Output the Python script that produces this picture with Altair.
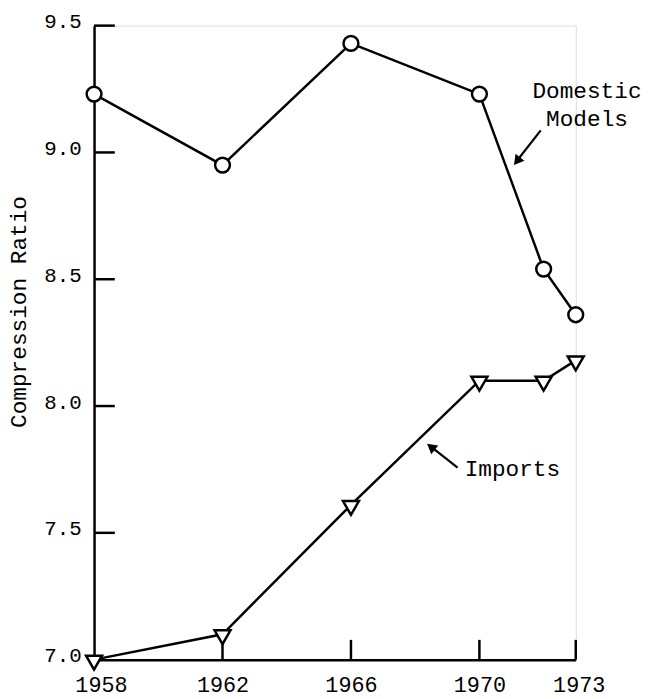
import altair as alt
import pandas as pd

# ---- data ----
years = [1958, 1962, 1966, 1970, 1972, 1973]
domestic = [9.23, 8.95, 9.43, 9.23, 8.54, 8.36]
imports = [7.00, 7.10, 7.61, 8.10, 8.10, 8.18]
x_ticks = [1958, 1962, 1966, 1970, 1973]
y_ticks = [7.0, 7.5, 8.0, 8.5, 9.0, 9.5]

FONT = "Liberation Mono"

dom_df = pd.DataFrame({"year": years, "value": domestic})
imp_df = pd.DataFrame({"year": years, "value": imports})

xscale = alt.Scale(domain=[1958, 1973], nice=False, zero=False)
yscale = alt.Scale(domain=[7.0, 9.5], nice=False, zero=False)

xaxis = alt.Axis(
    values=x_ticks, format="d", title=None, ticks=False, grid=False,
    labelFont=FONT, labelFontSize=22, labelColor="black", labelPadding=15,
    labelFlush=False, labelOverlap=False,
    labelOffset={"condition": [{"test": "datum.value == 1958", "value": 7},
                               {"test": "datum.value == 1973", "value": 3}],
                 "value": 0},
    domainColor="black", domainWidth=2.5,
)
yaxis = alt.Axis(
    values=y_ticks, format=".1f", title="Compression Ratio", ticks=False, grid=False,
    labelFont=FONT, labelFontSize=21, labelColor="black", labelPadding=13,
    labelOffset=-4,
    titleFont=FONT, titleFontSize=23, titleFontWeight="normal", titleColor="black",
    titleAngle=270, titleAlign="center", titleBaseline="middle",
    titleX=-76, titleY=289,
    domainColor="black", domainWidth=2.5,
)

X = alt.X("year:Q", scale=xscale, axis=xaxis)
Y = alt.Y("value:Q", scale=yscale, axis=yaxis)

base_axes = alt.Chart(dom_df).mark_line(opacity=0).encode(x=X, y=Y)

dom_line = alt.Chart(dom_df).mark_line(color="black", strokeWidth=2.5).encode(
    x="year:Q", y="value:Q")
imp_line = alt.Chart(imp_df).mark_line(color="black", strokeWidth=2.5).encode(
    x="year:Q", y="value:Q")
dom_pts = alt.Chart(dom_df).mark_point(
    shape="circle", size=225, filled=True, fill="white", stroke="black",
    strokeWidth=2.5, opacity=1).encode(x="year:Q", y="value:Q")
imp_pts = alt.Chart(imp_df).mark_point(
    shape="triangle-down", size=260, filled=True, fill="white", stroke="black",
    strokeWidth=2.5, opacity=1, yOffset=3).encode(x="year:Q", y="value:Q")

# inward ticks
ytick_df = pd.DataFrame({"year": [1958] * 5, "value": y_ticks[1:]})
xtick_df = pd.DataFrame({"year": x_ticks[1:], "value": [7.0] * 4})
yticks = alt.Chart(ytick_df).mark_tick(
    orient="horizontal", size=21, thickness=2.5, color="black", xOffset=10.5, opacity=1
).encode(x="year:Q", y="value:Q")
xticks = alt.Chart(xtick_df).mark_tick(
    orient="vertical", size=20, thickness=2.5, color="black", yOffset=-10, opacity=1
).encode(x="year:Q", y="value:Q")

# annotations
arrow_df = pd.DataFrame({
    "x": [1971.91, 1969.32], "y": [9.087, 7.757],
    "x2": [1971.20, 1968.52], "y2": [8.972, 7.837],
})
arrows = alt.Chart(arrow_df).mark_rule(color="black", strokeWidth=2.2).encode(
    x="x:Q", y="y:Q", x2="x2:Q", y2="y2:Q")
head1 = alt.Chart(pd.DataFrame({"x": [1971.17], "y": [8.966]})).mark_point(
    shape="triangle-up", size=130, filled=True, color="black", opacity=1, angle=218
).encode(x="x:Q", y="y:Q")
head2 = alt.Chart(pd.DataFrame({"x": [1968.49], "y": [7.839]})).mark_point(
    shape="triangle-up", size=130, filled=True, color="black", opacity=1, angle=308
).encode(x="x:Q", y="y:Q")

label_df = pd.DataFrame({
    "x": [1973.35, 1973.35], "y": [9.215, 9.106], "t": ["Domestic", "Models"]})
dom_label = alt.Chart(label_df).mark_text(
    font=FONT, fontSize=23, align="center", baseline="alphabetic", color="black"
).encode(x="x:Q", y="y:Q", text="t:N")
imp_label = alt.Chart(pd.DataFrame({"x": [1969.54], "y": [7.725], "t": ["Imports"]})).mark_text(
    font=FONT, fontSize=23, align="left", baseline="alphabetic", color="black"
).encode(x="x:Q", y="y:Q", text="t:N")

chart = alt.layer(
    base_axes, yticks, xticks, dom_line, imp_line, dom_pts, imp_pts,
    arrows, head1, head2, dom_label, imp_label,
).properties(
    width=487, height=641,
    padding={"left": 87, "top": 14, "right": 68, "bottom": 40},
    autosize="none",
).configure_view(stroke=None).configure(background="white")

chart.save("out.html", embed_options={"renderer": "svg", "actions": False})
